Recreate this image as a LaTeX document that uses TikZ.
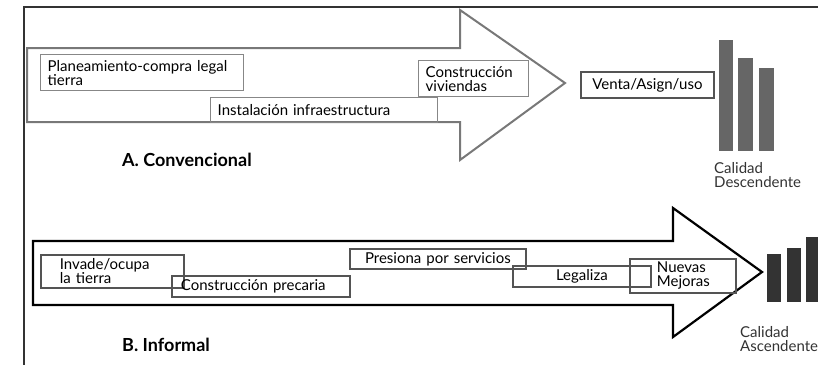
\documentclass[tikz,border=0pt]{standalone}
\usepackage{fontspec}
\setmainfont{Lato}
\usepackage{tikz}
\definecolor{grisflecha}{rgb}{0.47, 0.47, 0.47}
\definecolor{griscaja}{rgb}{0.53, 0.53, 0.53}
\definecolor{grisoscuro}{rgb}{0.33, 0.33, 0.33}
\definecolor{grisbarra}{rgb}{0.40, 0.40, 0.40}
\definecolor{negrobarra}{rgb}{0.20, 0.20, 0.20}

\begin{document}
\begin{tikzpicture}[x=1pt, y=-1pt,
	texto/.style={font=\fontsize{15}{14}\selectfont},
	pasoA/.style={texto, draw=griscaja, line width=1.4pt, anchor=north west, inner xsep=7pt, inner ysep=0pt, align=left},
	pasoB/.style={texto, draw=grisoscuro, line width=1.8pt, anchor=north west, inner xsep=7pt, inner ysep=0pt, align=left},
	titulo/.style={font=\fontsize{18}{18}\selectfont\bfseries, anchor=west, inner sep=0pt},
	calidad/.style={texto, anchor=north west, inner sep=0pt, align=left, text=black!80}]
			\useasboundingbox (0,0) rectangle (818,365);
			
			\draw[line width=1.2pt, black!80] (818,7) -- (24,7) -- (24,365);
			
			\draw[line width=2pt, grisflecha] (27,48) -- (460,48) -- (460,10) -- (565,83) -- (460,160) -- (460,122) -- (27,122) -- cycle;
			\draw[line width=2.2pt, black] (33,241) -- (673,241) -- (673,208) -- (762,272) -- (673,337) -- (673,305) -- (33,305) -- cycle;
			
			\node[pasoA, text width=189pt, minimum height=36pt] (planea) at (40,54) {Planeamiento-compra legal\\tierra};
			\node[pasoA, text width=213pt, minimum height=25pt] (instala) at (210,97) {Instalación infraestructura};
			\node[pasoA, text width=96pt, minimum height=36pt] (constr) at (418,60) {Construcción\\viviendas};
			\node[pasoB, text width=119pt, minimum height=26pt, align=center] (venta) at (580,71) {Venta/Asign/uso};
			
			\fill[grisbarra] (719,40) rectangle (733,151);
			\fill[grisbarra] (738,58) rectangle (753,151);
			\fill[grisbarra] (759,68) rectangle (774,151);
			\node[calidad] (desc) at (714,162) {Calidad\\Descendente};
			
			\node[titulo] (conv) at (122,160) {A. Convencional};
			
			\node[pasoB, text width=129pt, minimum height=33pt] (invade) at (40,254) {\hspace*{12pt}Invade/ocupa\\\hspace*{12pt}la tierra};
			\node[pasoB, text width=164pt, minimum height=21pt] (precaria) at (171,275) {\hspace*{2pt}Construcción precaria};
			\node[pasoB, text width=162pt, minimum height=20pt, align=center] (presiona) at (349,248) {Presiona por servicios};
			\node[pasoB, text width=124pt, minimum height=21pt, align=center] (legaliza) at (512,265) {Legaliza};
			\node[pasoB, text width=92pt, minimum height=34pt] (mejoras) at (629,258) {\hspace*{20pt}Nuevas\\\hspace*{20pt}Mejoras};
			
			\fill[negrobarra] (767,254) rectangle (781,302);
			\fill[negrobarra] (787,248) rectangle (801,302);
			\fill[negrobarra] (806,237) rectangle (822,302);
			\node[calidad] (asc) at (740,326) {Calidad\\Ascendente};
			
			\node[titulo] (info) at (122,345) {B. Informal};
			
			\end{tikzpicture}
\end{document}
